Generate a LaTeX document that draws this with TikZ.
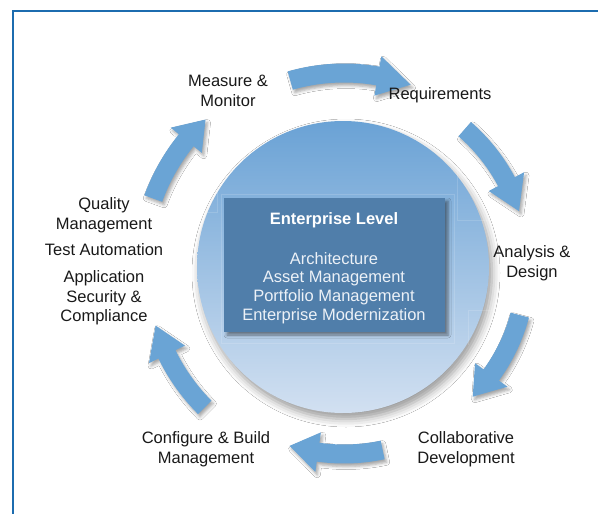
\documentclass[tikz,border=0pt]{standalone}
\usepackage{fontspec}
\setmainfont{Liberation Sans}
\usetikzlibrary{shadows.blur}
\definecolor{arrowblue}{RGB}{106,164,213}
\definecolor{boxblue}{RGB}{80,126,170}
\definecolor{frameblue}{RGB}{28,108,175}
\definecolor{circtop}{RGB}{106,162,213}
\definecolor{circbot}{RGB}{210,224,241}
\definecolor{bodytext}{RGB}{236,241,247}
\newcommand{\cyclearrow}[4]{%
  \fill[arrowblue, blur shadow={shadow xshift=2pt, shadow yshift=-3pt, shadow blur radius=3pt, shadow opacity=35}]
    plot[domain=#2:#3, samples=24] ({344+(#1+9.5)*cos(\x)},{268+(#1+9.5)*sin(\x)})
    -- ({344+(#1+20)*cos(#3)},{268+(#1+20)*sin(#3)})
    -- ({344+#1*cos(#4)},{268+#1*sin(#4)})
    -- ({344+(#1-20)*cos(#3)},{268+(#1-20)*sin(#3)})
    -- plot[domain=#3:#2, samples=24] ({344+(#1-9.5)*cos(\x)},{268+(#1-9.5)*sin(\x)})
    -- cycle;}
\tikzset{
  lbl/.style={align=center, inner sep=0pt, text=black!90, font=\fontsize{16.5}{19.5}\selectfont},
  faint/.style={draw=white, opacity=0.15, line width=0.8pt}
}
\begin{document}
\begin{tikzpicture}[x=1pt, y=-1pt]
\useasboundingbox (0,0) rectangle (598,514);
\fill[white] (0,0) rectangle (598,514);
% frame
\draw[frameblue, line width=2pt] (598,11) -- (13,11) -- (13,514);
% central circle
\shade[top color=circtop, bottom color=circbot,
  blur shadow={shadow xshift=3pt, shadow yshift=-6pt, shadow blur radius=8pt, shadow opacity=40}]
  (343,267) circle[radius=146];
% faint background rectangles
\draw[faint] (217,122) -- (217,212) -- (192,212);
\draw[faint] (457,150) -- (457,220) -- (500,220);
\draw[faint] (221,194) rectangle (454,343);
\draw[faint] (468,345) -- (468,310) -- (505,310);
% enterprise box
\node[fill=boxblue, minimum width=221pt, minimum height=134pt, inner sep=0pt,
  blur shadow={shadow xshift=3pt, shadow yshift=-3pt, shadow blur radius=3pt, shadow opacity=45}]
  (ent) at (334.5,265) {};
\node[inner sep=0pt, text=white, font=\bfseries\fontsize{16.5}{19.5}\selectfont] (entTitle) at (334,220) {Enterprise Level};
\node[inner sep=0pt, align=center, text=bodytext, font=\fontsize{16.5}{18.8}\selectfont] (entBody) at (334,288)
  {Architecture\\Asset Management\\Portfolio Management\\Enterprise Modernization};
% cycle arrows
\cyclearrow{195}{-106}{-80}{-70}
\cyclearrow{184}{-49}{-28}{-18}
\cyclearrow{182}{15}{36}{45}
\cyclearrow{186}{78}{98}{107}
\cyclearrow{197}{135}{154}{163}
\cyclearrow{203}{200}{219}{227}
% labels
\node[lbl] (measure) at (228,91) {Measure \&\\Monitor};
\node[lbl] (req) at (440,95) {Requirements};
\node[lbl] (analysis) at (532,263) {Analysis \&\\Design};
\node[lbl] (collab) at (466,449) {Collaborative\\Development};
\node[lbl] (config) at (206,449) {Configure \& Build\\Management};
\node[lbl] (quality) at (104,215) {Quality\\Management};
\node[lbl] (test) at (104,250) {Test Automation};
\node[lbl] (appsec) at (104,298) {Application\\Security \&\\Compliance};
\end{tikzpicture}
\end{document}
